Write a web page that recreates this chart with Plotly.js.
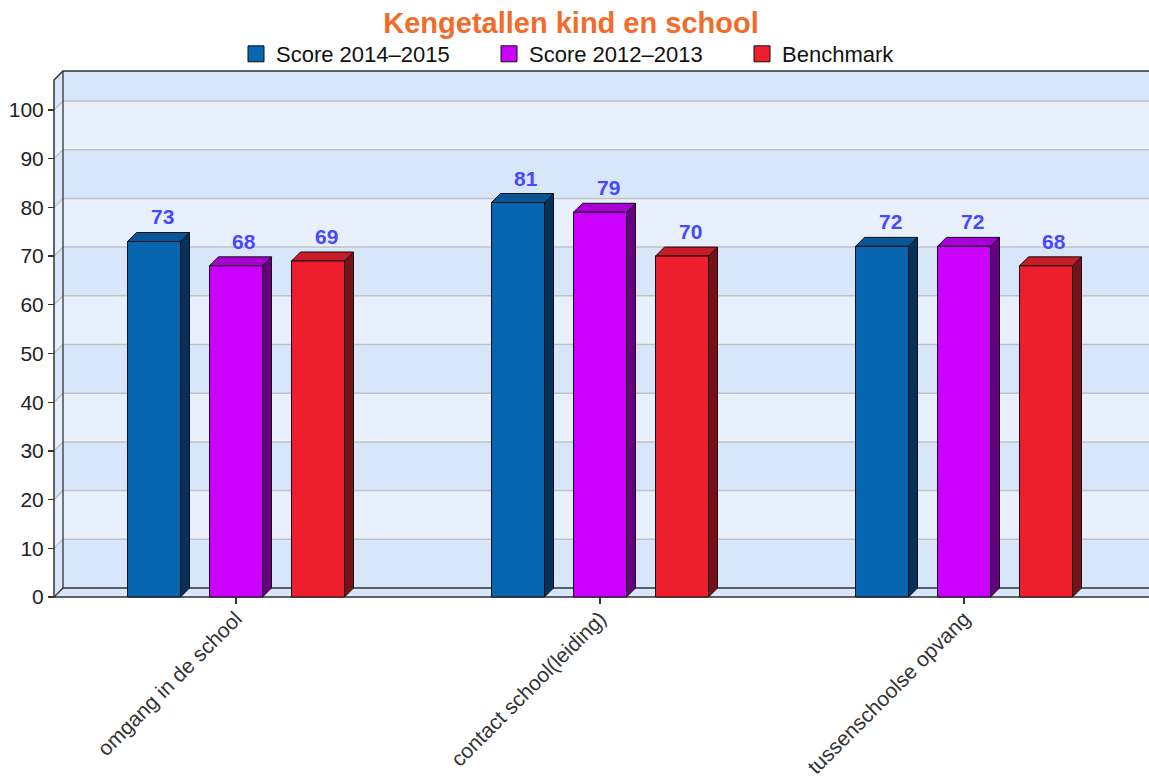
<!DOCTYPE html>
<html>
<head>
<meta charset="utf-8">
<script src="https://cdn.plot.ly/plotly-3.0.1.min.js"></script>
<style>html,body{margin:0;padding:0;background:#fff;}#chart{width:1149px;height:782px;}</style>
</head>
<body>
<div id="chart"></div>
<script>
// ---- data ----
const categories = ['omgang in de school', 'contact school(leiding)', 'tussenschoolse opvang'];
const seriesNames = ['Score 2014\u20132015', 'Score 2012\u20132013', 'Benchmark'];
const score2014_2015 = [73, 81, 72];
const score2012_2013 = [68, 79, 72];
const benchmark = [69, 70, 68];
const yTickValues = [0, 10, 20, 30, 40, 50, 60, 70, 80, 90, 100];

// ---- styling ----
const frontColors = ['#0866b0', '#cc00ff', '#ee1e2f'];
const topColors = ['#0a5595', '#a800d4', '#c81c28'];
const sideColors = ['#05315a', '#650080', '#761119'];
const seriesValues = [score2014_2015, score2012_2013, benchmark];

const PXX = 364, PXY = 4.87;           // px per category / per unit
const PLOT_W = 1097, PLOT_H = 531;
const XMIN = -0.5 - 2 / PXX, XMAX = XMIN + PLOT_W / PXX;
const YMIN = -3 / PXY, YMAX = YMIN + PLOT_H / PXY;
const DX = 9 / PXX, DY = 9 / PXY;      // 3D depth
const BAR_W = 53 / PXX, BAR_STEP = 82 / PXX;
const X0 = -0.5, XEND = XMAX + 0.1;
const YTOP_BACK = 108.0, YTOP_FRONT = YTOP_BACK - DY;
const catX = categories.map((c, j) => j);

const shapes = [];
// back wall + side wall bands
for (let k = 0; k <= 10; k++) {
  const y0 = k * 10, y1 = (k === 10) ? YTOP_FRONT : (k + 1) * 10;
  shapes.push({
    type: 'path', xref: 'x', yref: 'y', layer: 'below',
    path: `M${X0},${y0} L${X0 + DX},${y0 + DY} L${XEND},${y0 + DY} L${XEND},${y1 + DY} L${X0 + DX},${y1 + DY} L${X0},${y1} Z`,
    fillcolor: (k % 2 === 0) ? '#d7e6fb' : '#e8f0fe', line: {width: 0}
  });
}
// gridlines on walls
yTickValues.filter(v => v > 0).forEach(v => {
  shapes.push({
    type: 'path', xref: 'x', yref: 'y', layer: 'below',
    path: `M${X0},${v} L${X0 + DX},${v + DY} L${XEND},${v + DY}`,
    line: {color: '#c2c2c2', width: 1.5}
  });
});
// back wall left edge
shapes.push({type: 'path', xref: 'x', yref: 'y', layer: 'below',
  path: `M${X0 + DX},${DY} L${X0 + DX},${YTOP_BACK}`, line: {color: '#333', width: 1.3}});
// floor
shapes.push({type: 'path', xref: 'x', yref: 'y', layer: 'below',
  path: `M${X0},0 L${XEND},0 L${XEND},${DY} L${X0 + DX},${DY} Z`,
  fillcolor: '#d8e6fb', line: {color: '#333', width: 1.3}});
// front left edge and top edge
shapes.push({type: 'path', xref: 'x', yref: 'y', layer: 'below',
  path: `M${X0},0 L${X0},${YTOP_FRONT} L${X0 + DX},${YTOP_BACK} L${XEND},${YTOP_BACK}`,
  line: {color: '#333', width: 1.5}});

// bar top and side faces
seriesValues.forEach((vals, i) => {
  vals.forEach((v, j) => {
    const xl = catX[j] + (i - 1) * BAR_STEP - BAR_W / 2, xr = xl + BAR_W;
    shapes.push({type: 'path', xref: 'x', yref: 'y', layer: 'below',
      path: `M${xr},0 L${xr},${v} L${xr + DX},${v + DY} L${xr + DX},${DY} Z`,
      fillcolor: sideColors[i], line: {color: '#111', width: 1}});
    shapes.push({type: 'path', xref: 'x', yref: 'y', layer: 'below',
      path: `M${xl},${v} L${xr},${v} L${xr + DX},${v + DY} L${xl + DX},${v + DY} Z`,
      fillcolor: topColors[i], line: {color: '#111', width: 1}});
  });
});

const traces = [];
seriesValues.forEach((vals, i) => {
  traces.push({
    type: 'bar', x: catX, y: vals, width: BAR_W,
    offset: (i - 1) * BAR_STEP - BAR_W / 2,
    marker: {color: frontColors[i], line: {color: '#111', width: 1}},
    showlegend: false, hoverinfo: 'y'
  });
});
// legend entries
seriesNames.forEach((n, i) => {
  traces.push({
    type: 'scatter', mode: 'markers', x: [null], y: [null], name: n,
    marker: {symbol: 'square', size: 16, color: frontColors[i], line: {color: '#111', width: 1}}
  });
});

const annotations = [];
seriesValues.forEach((vals, i) => {
  vals.forEach((v, j) => {
    annotations.push({
      x: catX[j] + (i - 1) * BAR_STEP + DX * 0.9, y: v + DY, xref: 'x', yref: 'y',
      text: String(v), showarrow: false, yanchor: 'bottom', yshift: 2,
      font: {family: 'Liberation Sans, Arial, sans-serif', size: 21, color: '#4848ff', weight: 'bold'}
    });
  });
});

const layout = {
  width: 1149, height: 782,
  margin: {l: 52, r: 0, t: 69, b: 182, pad: 0, autoexpand: false},
  paper_bgcolor: '#ffffff', plot_bgcolor: 'rgba(0,0,0,0)',
  barmode: 'overlay',
  title: {
    text: '<b>Kengetallen kind en school</b>',
    font: {family: 'Liberation Sans, Arial, sans-serif', size: 29, color: '#f26b2b'},
    x: 571 / 1149, xanchor: 'center', xref: 'container',
    y: 1 - 23 / 782, yanchor: 'middle', yref: 'container'
  },
  legend: {
    orientation: 'h', xref: 'container', yref: 'container',
    x: 236 / 1149, xanchor: 'left', y: 1 - 54 / 782, yanchor: 'middle',
    font: {family: 'Liberation Sans, Arial, sans-serif', size: 22, color: '#111'},
    entrywidth: 208, entrywidthmode: 'pixels', bgcolor: 'rgba(0,0,0,0)'
  },
  xaxis: {
    range: [XMIN, XMAX], tickvals: catX, ticktext: categories, tickangle: -45,
    showgrid: false, zeroline: false, showline: false, automargin: false,
    ticks: 'outside', ticklen: 6, tickcolor: '#333', tickwidth: 1.3,
    ticklabelstandoff: -6,
    anchor: 'free', position: 3 / PLOT_H,
    tickfont: {family: 'Liberation Sans, Arial, sans-serif', size: 21, color: '#333'},
    fixedrange: true
  },
  yaxis: {
    range: [YMIN, YMAX], tickvals: yTickValues, ticktext: yTickValues.map(String),
    showgrid: false, zeroline: false, showline: false, automargin: false,
    ticks: 'outside', ticklen: 6, tickcolor: '#333', tickwidth: 1.3,
    anchor: 'free', position: 2 / PLOT_W,
    tickfont: {family: 'Liberation Sans, Arial, sans-serif', size: 21, color: '#222'},
    fixedrange: true
  },
  shapes: shapes,
  annotations: annotations
};

Plotly.newPlot('chart', traces, layout, {displayModeBar: false, staticPlot: true});
</script>
</body>
</html>
